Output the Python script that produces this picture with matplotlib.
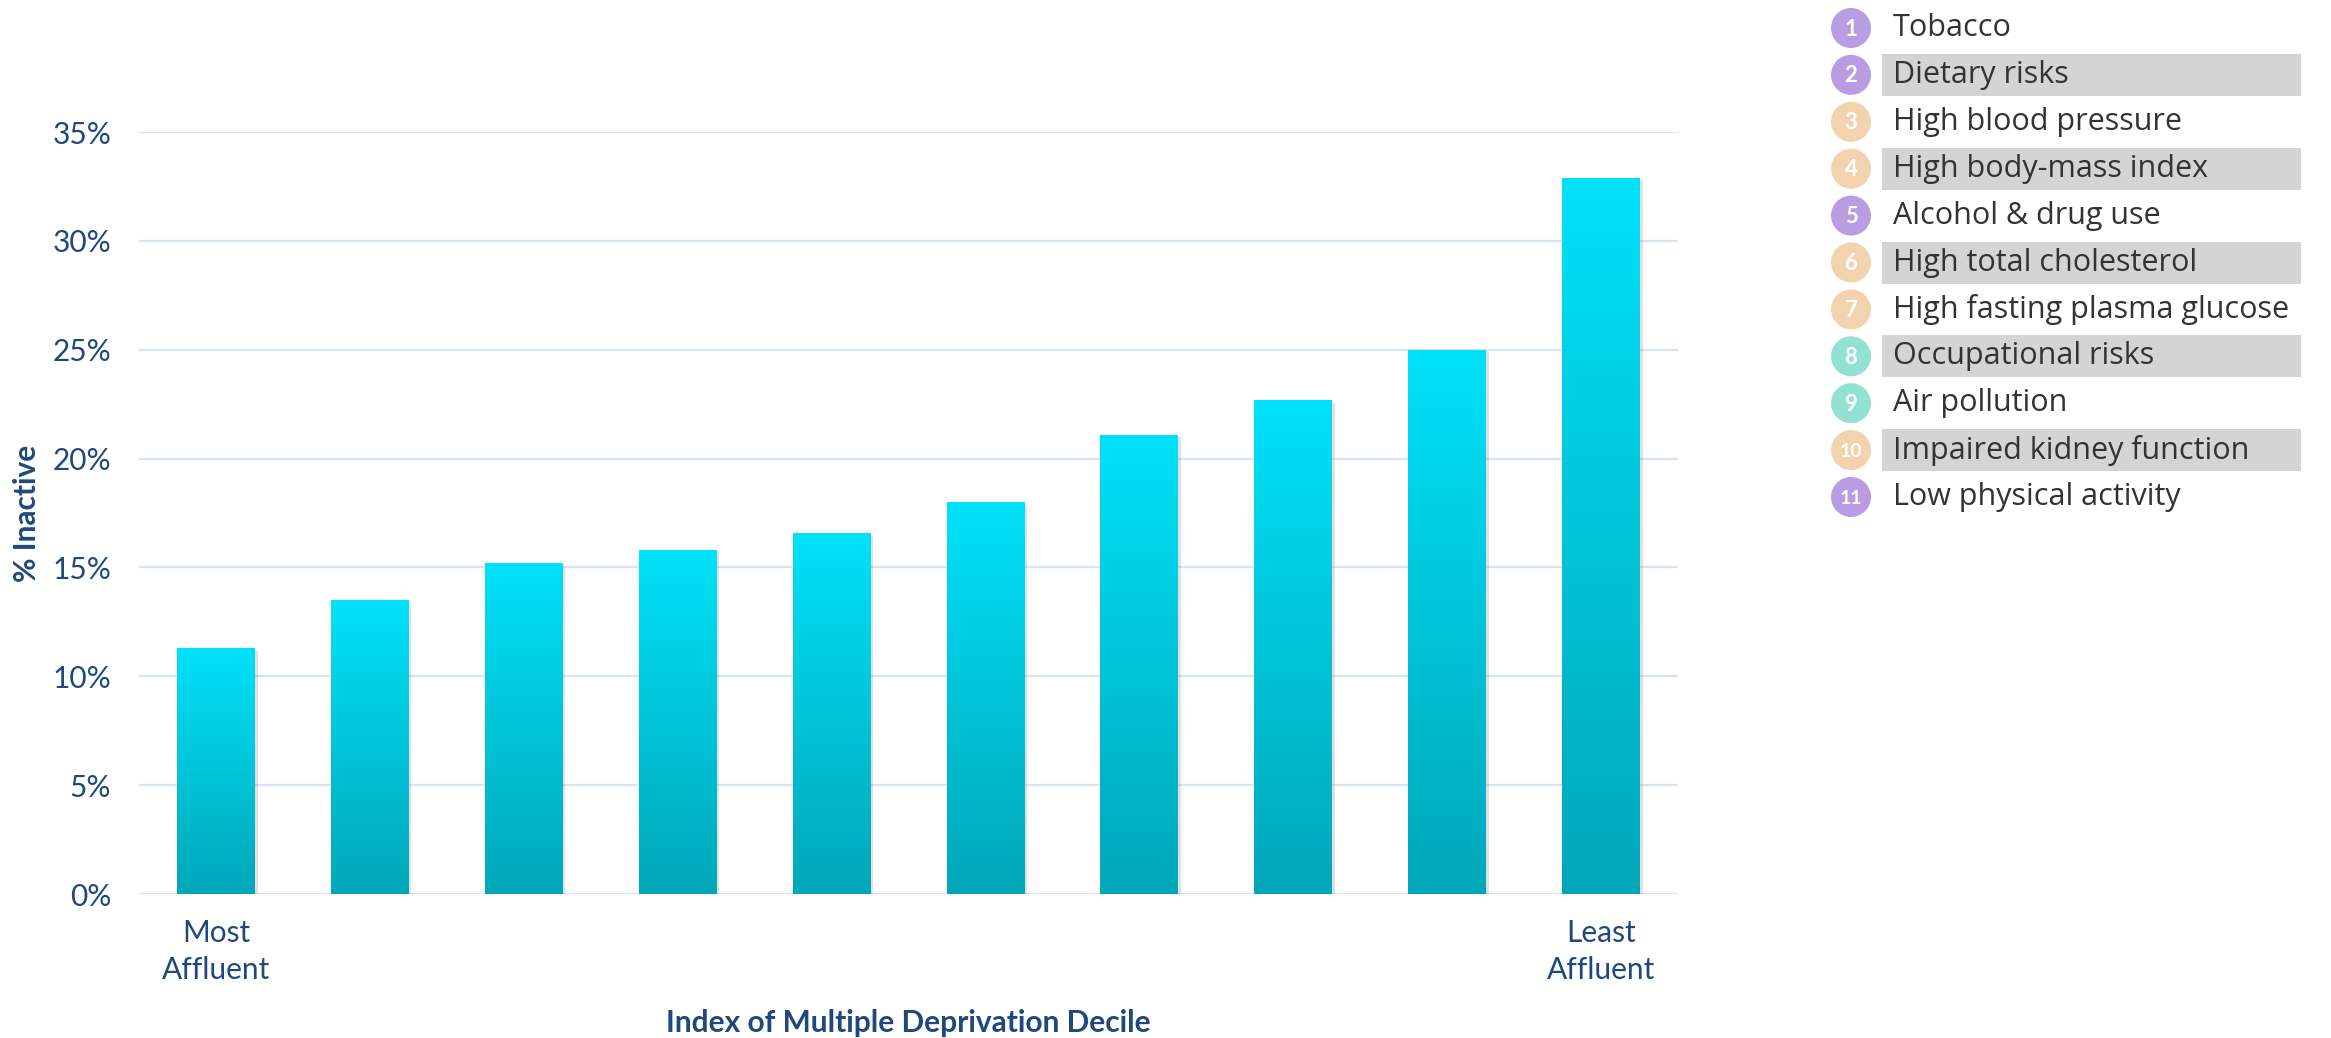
import numpy as np
import matplotlib
matplotlib.use('Agg')
import matplotlib.pyplot as plt
from matplotlib.patches import Circle, Rectangle
from matplotlib.colors import LinearSegmentedColormap
import matplotlib.patheffects as pe

## data
deciles      = np.arange(1, 11)
pct_inactive = [11.3, 13.5, 15.2, 15.8, 16.6, 18.0, 21.1, 22.7, 25.0, 32.9]
decile_names = ['Most\nAffluent', '', '', '', '', '', '', '', '', 'Least\nAffluent']
yticks       = [0, 5, 10, 15, 20, 25, 30, 35]

risk_factors = ['Tobacco', 'Dietary risks', 'High blood pressure', 'High body-mass index',
                'Alcohol & drug use', 'High total cholesterol', 'High fasting plasma glucose',
                'Occupational risks', 'Air pollution', 'Impaired kidney function',
                'Low physical activity']
risk_group   = ['p', 'p', 'o', 'o', 'p', 'o', 'o', 't', 't', 'o', 'p']

## styles
W, H      = 2331, 1038
navy      = '#1F497D'
gridcol   = '#D9E3F1'
fs        = 21.5
group_col = {'p': '#B89DE2', 'o': '#F2D3AE', 't': '#93E1D2'}

fig = plt.figure(figsize=(W/100, H/100), dpi=100)

## overlay in pixel units for the pasted legend image
lax = fig.add_axes([0, 0, 1, 1])
lax.set_xlim(0, W); lax.set_ylim(H, 0)
lax.axis('off')

ax = fig.add_axes([139/W, 1 - 894/H, (1678-139)/W, (894-132)/H])
for s in ax.spines.values():
    s.set_visible(False)
for y in yticks:
    ax.axhline(y, color=gridcol, lw=1.6, zorder=0)

cmap = LinearSegmentedColormap.from_list('cy', ['#00A7B9', '#00C4D8', '#00E1F9'])
grad = np.linspace(0, 1, 256).reshape(-1, 1)
bars = ax.bar(deciles, pct_inactive, width=0.505, color='#00C4D8', zorder=2,
              path_effects=[pe.SimplePatchShadow(offset=(2, -2), shadow_rgbFace='#888888', alpha=0.25),
                            pe.Normal()])
for b in bars:
    x0, w, h = b.get_x(), b.get_width(), b.get_height()
    im = ax.imshow(grad, cmap=cmap, origin='lower', aspect='auto',
                   extent=[x0, x0 + w, 0, h], zorder=3)
    im.set_clip_path(b)
ax.set_xlim(0.5, 10.5)
ax.set_ylim(0, 35)

ax.set_yticks(yticks)
ax.set_yticklabels(['%d%%' % y for y in yticks])
ax.set_xticks(deciles)
ax.set_xticklabels(decile_names, linespacing=1.4)
ax.tick_params(axis='both', length=0, labelsize=fs, labelcolor=navy)
ax.tick_params(axis='y', pad=20)
ax.tick_params(axis='x', pad=18)
for t in ax.get_xticklabels() + ax.get_yticklabels():
    t.set_fontfamily('Lato')

ax.set_xlabel('Index of Multiple Deprivation Decile', fontsize=fs, fontweight='bold',
              color=navy, family='Lato', va='center')
ax.xaxis.set_label_coords(0.5, (894-1023)/762)
ax.set_ylabel('% Inactive', fontsize=fs, fontweight='bold', color=navy, family='Lato', va='center')
ax.yaxis.set_label_coords((27-139)/1539, 0.5)

## legend list on the right
for i, (name, g) in enumerate(zip(risk_factors, risk_group)):
    yc = 28 + 46.9*i
    if i % 2 == 1:
        lax.add_patch(Rectangle((1882, yc - 21), 2301 - 1882, 42, color='#D4D4D4', lw=0))
    lax.add_patch(Circle((1851, yc), 20, color=group_col[g], lw=0))
    lax.text(1851, yc + 1, str(i + 1), ha='center', va='center', color='white',
             fontsize=16 if i < 9 else 14, fontweight='bold', family='Lato')
    lax.text(1893, yc, name, ha='left', va='center', color='#333333', fontsize=22, family='Open Sans')

plt.savefig('out.png', dpi=100)
plt.close()
